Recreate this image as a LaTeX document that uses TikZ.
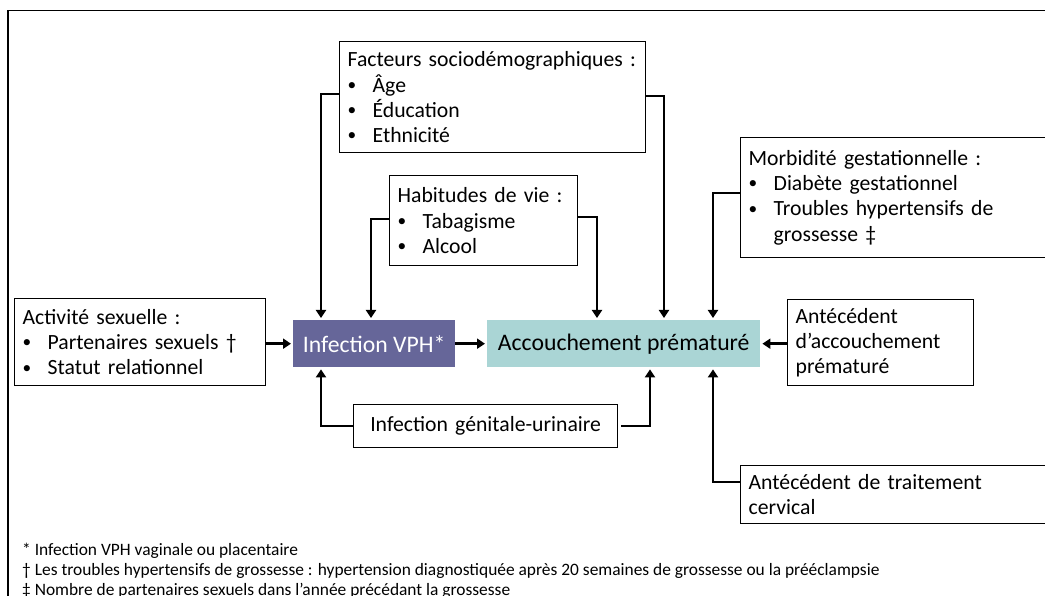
\documentclass[tikz,border=0pt]{standalone}
\usepackage{fontspec}
\setmainfont{Carlito}
\usetikzlibrary{arrows.meta,calc}
\definecolor{vphcol}{RGB}{102,102,153}
\definecolor{acccol}{RGB}{170,213,213}
\newcommand{\bitem}[1]{\makebox[25pt][l]{\raisebox{0.08em}{\scalebox{0.8}{\textbullet}}}#1}
\tikzset{
  box/.style={draw, line width=1.3pt, align=left, inner xsep=8pt, inner ysep=0pt,
    anchor=north west, font=\fontsize{21.7}{25.2}\selectfont},
  mainbox/.style={inner sep=0pt, anchor=north west, align=center,
    font=\fontsize{23.7}{28}\selectfont},
  arr/.style={line width=2.7pt, -{Triangle[length=8pt,width=10pt]}, shorten >=2pt},
  foot/.style={anchor=base west, inner sep=0pt, font=\fontsize{17.4}{21}\selectfont}
}
\begin{document}
\begin{tikzpicture}[x=1pt,y=-1pt]
\useasboundingbox (0,0) rectangle (1045,596);
\clip (0,0) rectangle (1045,596);
\draw[line width=1.5pt] (8,1000) -- (8,10.5) -- (1100,10.5);

% boxes
\node[box, text width=290pt, minimum height=111pt] (fac) at (339,41)
  {Facteurs sociodémographiques :\\ \bitem{Âge}\\ \bitem{Éducation}\\ \bitem{Ethnicité}};
\node[box, text width=172pt, minimum height=90pt] (hab) at (389,175)
  {Habitudes de vie :\\ \bitem{Tabagisme}\\ \bitem{Alcool}};
\node[box, text width=304pt, minimum height=120pt] (mor) at (740,137)
  {Morbidité gestationnelle :\\ \bitem{Diabète gestationnel}\\ \bitem{Troubles hypertensifs de}\\ \hspace*{25pt}grossesse ‡};
\node[box, text width=235pt, minimum height=87pt] (act) at (14,298)
  {Activité sexuelle :\\ \bitem{Partenaires sexuels †}\\ \bitem{Statut relationnel}};
\node[box, text width=170pt, minimum height=86pt] (ant) at (787,299)
  {Antécédent\\ d’accouchement\\ prématuré};
\node[box, text width=304pt, minimum height=58pt] (trt) at (740,465)
  {Antécédent de traitement\\ cervical};
\node[box, text width=248pt, minimum height=43pt, align=center] (gen) at (353,404)
  {Infection génitale-urinaire};
\node[mainbox, fill=vphcol, text=white, minimum width=162pt, minimum height=47pt] (vph) at (293,320)
  {Infection VPH*};
\node[mainbox, fill=acccol, text=black, minimum width=273pt, minimum height=47pt] (acc) at (487,320)
  {Accouchement prématuré};

% connector bends
\coordinate (c1) at (321,94);
\coordinate (c2) at (371,219);
\coordinate (c3) at (597,217);
\coordinate (c4) at (664,96);
\coordinate (c5) at (713,193);
\coordinate (c6) at (713,482);
\coordinate (c7) at (321,426);
\coordinate (c8) at (650,426);

\draw[arr] (fac.west |- c1) -- (c1) -- (c1 |- vph.north);
\draw[arr] (hab.west |- c2) -- (c2) -- (c2 |- vph.north);
\draw[arr] (hab.east |- c3) -- (c3) -- (c3 |- acc.north);
\draw[arr] (fac.east |- c4) -- (c4) -- (c4 |- acc.north);
\draw[arr] (mor.west |- c5) -- (c5) -- (c5 |- acc.north);
\draw[arr] (trt.west |- c6) -- (c6) -- (c6 |- acc.south);
\draw[arr] (gen.west |- c7) -- (c7) -- (c7 |- vph.south);
\draw[arr] ($(gen.east |- c8)+(3,0)$) -- (c8) -- (c8 |- acc.south);
\draw[arr] (act.east |- vph.west) -- (vph.west);
\draw[arr] (vph.east) -- (acc.west);
\draw[arr] (ant.west |- acc.east) -- (acc.east);

% footnotes
\node[foot] (fn1) at (22,555) {* Infection VPH vaginale ou placentaire};
\node[foot] (fn2) at (22,575) {† Les troubles hypertensifs de grossesse : hypertension diagnostiquée après 20 semaines de grossesse ou la prééclampsie};
\node[foot] (fn3) at (22,595) {‡ Nombre de partenaires sexuels dans l’année précédant la grossesse};
\end{tikzpicture}
\end{document}
